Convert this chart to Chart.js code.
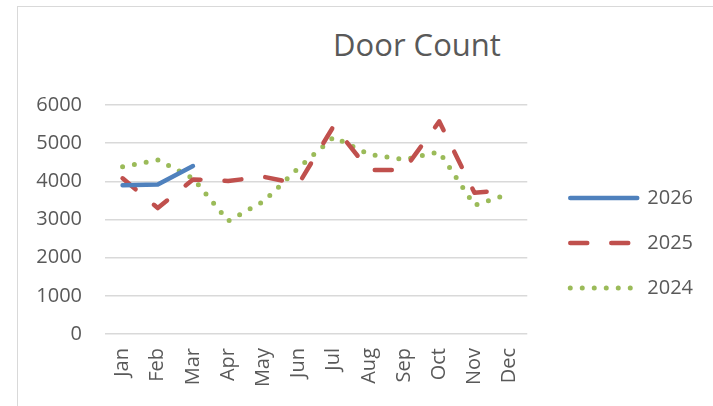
<!DOCTYPE html>
<html>
<head>
<meta charset="utf-8">
<script src="https://cdn.jsdelivr.net/npm/chart.js@4"></script>
<style>
  html, body { margin: 0; padding: 0; width: 713px; height: 406px; overflow: hidden; background: #fff; }
  #frame { position: absolute; left: 17px; top: 6px; width: 800px; height: 500px;
           border-left: 1.5px solid #d9d9d9; border-top: 1.5px solid #d9d9d9; }
  #title { position: absolute; left: 267px; width: 300px; top: 29px; line-height: 30px;
           text-align: center; font-family: "Open Sans", sans-serif; font-size: 31px; color: #595959; }
  canvas { position: absolute; left: 0; top: 0; }
</style>
</head>
<body>
<div id="frame"></div>
<div id="title">Door Count</div>
<canvas id="c" width="713" height="406"></canvas>
<script>
const months = ["Jan", "Feb", "Mar", "Apr", "May", "Jun", "Jul", "Aug", "Sep", "Oct", "Nov", "Dec"];
const series2026 = [3900, 3920, 4400, null, null, null, null, null, null, null, null, null];
const series2025 = [4080, 3300, 4050, 4010, 4120, 3930, 5450, 4300, 4300, 5570, 3700, 3780];
const series2024 = [4380, 4560, 4080, 2960, 3470, 4350, 5160, 4710, 4570, 4770, 3370, 3680];
const yTicks = [0, 1000, 2000, 3000, 4000, 5000, 6000];

const textColor = "#595959";
const font20 = { family: "Open Sans", size: 20 };

function legendLabels(chart) {
  return Chart.defaults.plugins.legend.labels.generateLabels(chart).map(item => {
    const ds = chart.data.datasets[item.datasetIndex];
    return Object.assign(item, {
      lineDash: ds.borderDash || [],
      lineWidth: ds.borderWidth,
      lineCap: "round",
      strokeStyle: ds.borderColor,
      fillStyle: ds.borderColor,
      pointStyle: "line"
    });
  });
}

function draw() {
  new Chart(document.getElementById("c"), {
    type: "line",
    data: {
      labels: months,
      datasets: [
        { label: "2026", data: series2026, borderColor: "#4f81bd", backgroundColor: "#4f81bd",
          borderWidth: 4.5, borderCapStyle: "round", borderJoinStyle: "round", pointRadius: 0, tension: 0 },
        { label: "2025", data: series2025, borderColor: "#c0504d", backgroundColor: "#c0504d",
          borderWidth: 4.5, borderDash: [17, 24], borderCapStyle: "round", borderJoinStyle: "round", pointRadius: 0, tension: 0 },
        { label: "2024", data: series2024, borderColor: "#9bbb59", backgroundColor: "#9bbb59",
          borderWidth: 5, borderDash: [0, 12], borderCapStyle: "round", borderJoinStyle: "round", pointRadius: 0, tension: 0 }
      ]
    },
    options: {
      responsive: false,
      animation: false,
      layout: { padding: { top: 90, bottom: 10, left: -300, right: 10 } },
      plugins: {
        title: { display: false },
        tooltip: { enabled: false },
        legend: {
          position: "right",
          align: "center",
          labels: {
            font: font20, color: textColor,
            usePointStyle: true, pointStyle: "line", pointStyleWidth: 67,
            padding: 25,
            generateLabels: legendLabels
          }
        }
      },
      scales: {
        x: {
          offset: true,
          grid: { display: false, drawTicks: false },
          border: { display: false },
          ticks: { font: font20, color: textColor, maxRotation: 90, minRotation: 90, padding: 14, autoSkip: false },
          afterFit: s => { s.height = 62; }
        },
        y: {
          min: 0, max: 6000,
          afterBuildTicks: s => { s.ticks = yTicks.map(v => ({ value: v })); },
          grid: { color: "#d9d9d9", lineWidth: 1.5, drawTicks: false },
          border: { display: false },
          ticks: { font: font20, color: textColor, padding: 23, callback: v => String(v) },
          afterFit: s => { s.width = 405; }
        },
        topGap: {
          type: "category",
          axis: "x",
          position: "top",
          display: true,
          grid: { display: false, drawTicks: false },
          border: { display: false },
          ticks: { display: false },
          afterFit: s => { s.height = 15; }
        },
        rightGap: {
          type: "linear",
          axis: "y",
          position: "right",
          display: true,
          grid: { display: false, drawTicks: false },
          border: { display: false },
          ticks: { display: false },
          afterFit: s => { s.width = 18; }
        }
      }
    }
  });
}

if (document.fonts && document.fonts.load) {
  document.fonts.load('20px "Open Sans"').then(draw, draw);
} else {
  draw();
}
</script>
</body>
</html>
